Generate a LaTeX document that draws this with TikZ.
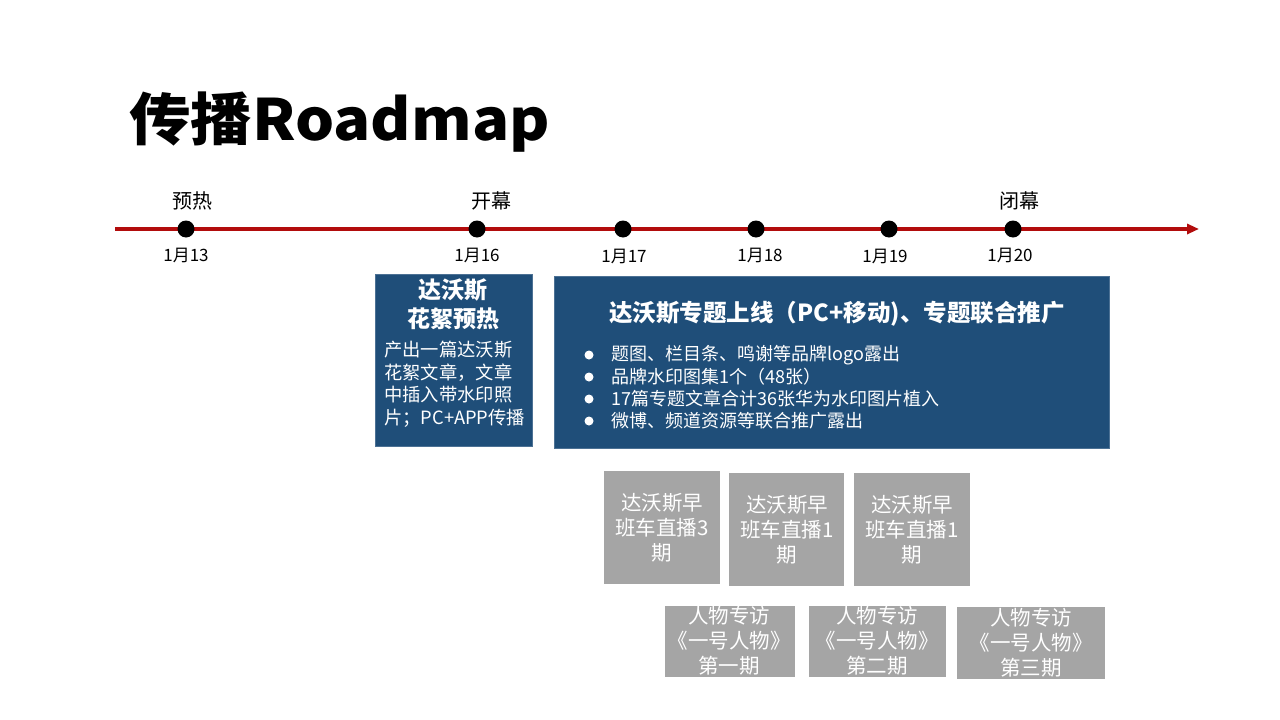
\documentclass[tikz,border=0pt]{standalone}
\usepackage{fontspec}
\setmainfont{Noto Sans CJK SC}
\newfontfamily\cjk{Noto Sans CJK SC}
\usetikzlibrary{arrows.meta}
\definecolor{tlred}{RGB}{178,12,12}
\definecolor{navy}{RGB}{31,78,121}
\definecolor{gbox}{RGB}{165,165,165}
\begin{document}
\begin{tikzpicture}[x=1pt,y=-1pt,
  dot/.style={circle,fill=black,inner sep=0,minimum size=17},
  toplab/.style={font=\cjk\fontsize{20}{24}\selectfont,inner sep=0},
  datelab/.style={font=\cjk\fontsize{17}{20}\selectfont,inner sep=0},
  navybox/.style={fill=navy,draw=navy!80!white,line width=0.6,inner sep=0},
  graybox/.style={fill=gbox,inner sep=0},
  graytext/.style={text=white,align=center,inner sep=0,font=\cjk\fontsize{20.5}{25}\selectfont},
  bul/.style={circle,fill=white,inner sep=0,minimum size=9},
  bultext/.style={text=white,anchor=west,inner sep=0,font=\cjk\fontsize{18}{22}\selectfont}
]
\useasboundingbox (0,0) rectangle (1280,720);
\fill[white] (0,0) rectangle (1280,720);

% title
\node[anchor=base west,inner sep=0,xscale=1.08] (title) at (129,140)
  {\cjk\bfseries\fontsize{57}{60}\selectfont 传播Roadmap};

% timeline
\coordinate (tlA) at (115,229);
\coordinate (tlB) at (1199,229);
\draw[tlred,line width=3.5,-{Triangle[length=12,width=10]}] (tlA) -- (tlB);

\node[dot] (d13) at (186,229) {};
\node[dot] (d16) at (477,229) {};
\node[dot] (d17) at (623,229) {};
\node[dot] (d18) at (756,229) {};
\node[dot] (d19) at (889,229) {};
\node[dot] (d20) at (1013,229) {};

\node[toplab] (l13) at (192,201) {预热};
\node[toplab] (l16) at (491,201) {开幕};
\node[toplab] (l20) at (1019,201) {闭幕};

\node[datelab] (t13) at (186,255) {1月13};
\node[datelab] (t16) at (477,255) {1月16};
\node[datelab] (t17) at (624,256) {1月17};
\node[datelab] (t18) at (760,255) {1月18};
\node[datelab] (t19) at (885,256) {1月19};
\node[datelab] (t20) at (1010,255) {1月20};

% box 1
\node[navybox,minimum width=157,minimum height=172] (b1) at (453.5,360) {};
\node[text=white,align=center,inner sep=0,font=\cjk\bfseries\fontsize{23}{29}\selectfont] (b1t) at (453,304) {达沃斯\\花絮预热};
\node[text=white,align=left,anchor=west,inner sep=0,font=\cjk\fontsize{18.3}{22.5}\selectfont] (b1b) at (384,384)
  {产出一篇达沃斯\\花絮文章，文章\\中插入带水印照\\片；PC+APP传播};

% box 2
\node[navybox,minimum width=555,minimum height=172] (b2) at (831.5,362) {};
\node[text=white,inner sep=0,font=\cjk\bfseries\fontsize{23.5}{27}\selectfont] (b2t) at (837,314) {达沃斯专题上线（PC+移动)、专题联合推广};
\node[bul] (p1) at (589,355) {};
\node[bul] (p2) at (589,377) {};
\node[bul] (p3) at (589,399) {};
\node[bul] (p4) at (589,421) {};
\node[bultext] (s1) at (611,355) {题图、栏目条、鸣谢等品牌logo露出};
\node[bultext] (s2) at (611,377) {品牌水印图集1个（48张）};
\node[bultext] (s3) at (611,399) {17篇专题文章合计36张华为水印图片植入};
\node[bultext] (s4) at (611,421) {微博、频道资源等联合推广露出};

% gray boxes row 1
\node[graybox,minimum width=116,minimum height=113] (g1) at (661.5,527.5) {};
\node[graybox,minimum width=115,minimum height=113] (g2) at (786.5,529.5) {};
\node[graybox,minimum width=116,minimum height=113] (g3) at (912,529.5) {};
\node[graytext] (g1t) at (662,528) {达沃斯早\\班车直播3\\期};
\node[graytext] (g2t) at (787,530) {达沃斯早\\班车直播1\\期};
\node[graytext] (g3t) at (912,530) {达沃斯早\\班车直播1\\期};

% gray boxes row 2
\node[graybox,minimum width=130,minimum height=71] (h1) at (729.5,641.5) {};
\node[graybox,minimum width=137,minimum height=71] (h2) at (877.5,641.5) {};
\node[graybox,minimum width=148,minimum height=72] (h3) at (1031,643) {};
\node[graytext] (h1t) at (729,641) {人物专访\\《一号人物》\\第一期};
\node[graytext] (h2t) at (877,641) {人物专访\\《一号人物》\\第二期};
\node[graytext] (h3t) at (1031,643) {人物专访\\《一号人物》\\第三期};
\end{tikzpicture}
\end{document}
